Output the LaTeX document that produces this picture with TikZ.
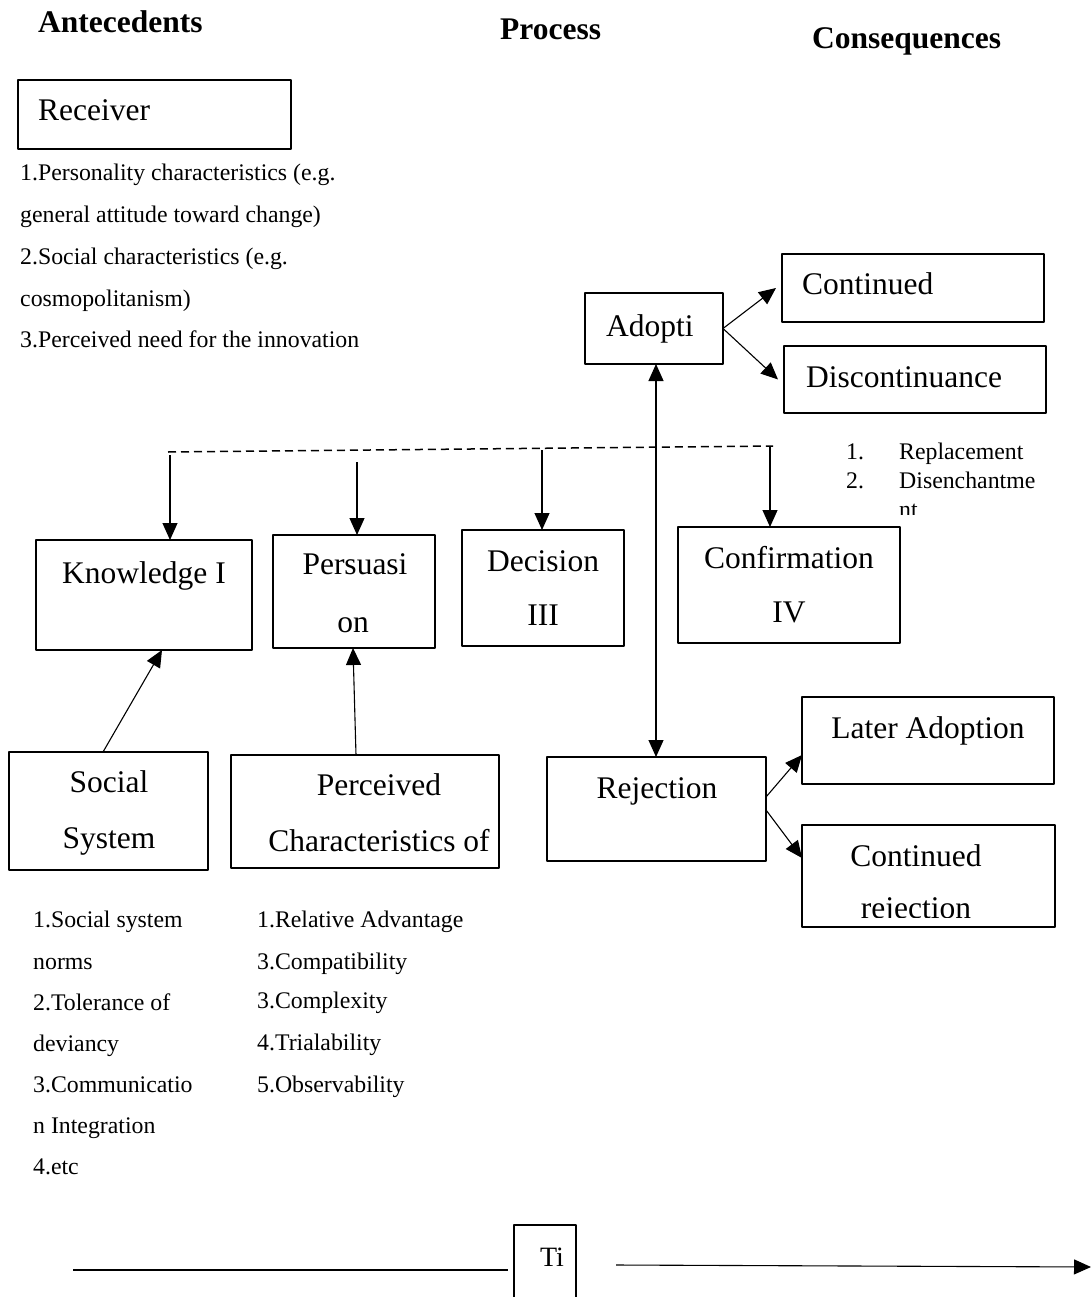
\documentclass[tikz,border=0pt]{standalone}
\usepackage{fontspec}
\setmainfont{Liberation Serif}
\usetikzlibrary{arrows.meta}

\begin{document}
\begin{tikzpicture}[x=1pt, y=-1pt, line join=round, >={Triangle[length=17pt,width=15pt]},
	box/.style={draw, line width=1.3pt, inner sep=0pt, outer sep=0pt},
	big/.style={font=\fontsize{31.5}{36}\selectfont, inner sep=0pt, anchor=base},
	head/.style={font=\fontsize{31.5}{36}\selectfont\bfseries, inner sep=0pt, anchor=base west},
	small/.style={font=\fontsize{23.8}{28}\selectfont, inner sep=0pt, anchor=base west},
	conn/.style={->, line width=1.1pt}]
	\useasboundingbox (0,0) rectangle (1091,1297);
	\node[head] (hant) at (38,33) {Antecedents};
	\node[head] (hpro) at (500,40) {Process};
	\node[head] (hcon) at (812,49) {Consequences};
	\node[box, minimum width=273, minimum height=69] (rec) at (154.5,114.5) {};
	\node[big, anchor=base west] (trec) at (38,121) {Receiver};
	\node[small] (r1) at (20,181) {1.Personality characteristics (e.g.};
	\node[small] (r2) at (20,223) {general attitude toward change)};
	\node[small] (r3) at (20,265) {2.Social characteristics (e.g.};
	\node[small] (r4) at (20,306) {cosmopolitanism)};
	\node[small] (r5) at (20,347) {3.Perceived need for the innovation};
	\node[box, minimum width=138, minimum height=71] (adopt) at (654,328.5) {};
	\node[big, anchor=base west] (tadopt) at (606,336) {Adopti};
	\node[box, minimum width=262, minimum height=68] (cont) at (913,288) {};
	\node[big, anchor=base west] (tcont) at (802,294) {Continued};
	\node[box, minimum width=262, minimum height=67] (disc) at (915,379.5) {};
	\node[big, anchor=base west] (tdisc) at (806,387) {Discontinuance};
	\node[small] (d1) at (846,459) {1.};
	\node[small] (d2) at (899,459) {Replacement};
	\node[small] (d3) at (846,488) {2.};
	\node[small] (d4) at (899,488) {Disenchantme};
	\begin{scope}
		\clip (880,495) rectangle (1091,514);
		\node[small] (d5) at (899,517) {nt};
	\end{scope}
	\node[box, minimum width=216, minimum height=110] (know) at (144,595) {};
	\node[big] (tknow) at (144,583) {Knowledge I};
	\node[box, minimum width=162, minimum height=113] (pers) at (354,591.5) {};
	\node[big] (tpers1) at (355,574) {Persuasi};
	\node[big] (tpers2) at (353,632) {on};
	\node[box, minimum width=162, minimum height=116] (dec) at (543,588) {};
	\node[big] (tdec1) at (543,571) {Decision};
	\node[big] (tdec2) at (543,625) {III};
	\node[box, minimum width=222, minimum height=116] (conf) at (789,585) {};
	\node[big] (tconf1) at (789,568) {Confirmation};
	\node[big] (tconf2) at (789,622) {IV};
	\node[box, minimum width=252, minimum height=87] (later) at (928,740.5) {};
	\node[big] (tlater) at (928,738) {Later Adoption};
	\node[box, minimum width=219, minimum height=104] (rej) at (656.5,809) {};
	\node[big] (trej) at (657,798) {Rejection};
	\node[box, minimum width=253, minimum height=102] (crej) at (928.5,876) {};
	\node[big] (tcrej1) at (916,866) {Continued};
	\begin{scope}
		\clip (810,890) rectangle (1050,917);
		\node[big] (tcrej2) at (916,918) {rejection};
	\end{scope}
	\node[box, minimum width=199, minimum height=118] (soc) at (108.5,811) {};
	\node[big] (tsoc1) at (109,792) {Social};
	\node[big] (tsoc2) at (109,848) {System};
	\node[box, minimum width=268, minimum height=113] (perc) at (365,811.5) {};
	\node[big] (tperc1) at (379,795) {Perceived};
	\node[big] (tperc2) at (379,851) {Characteristics of};
	\node[small] (s1) at (33,927) {1.Social system};
	\node[small] (s2) at (33,969) {norms};
	\node[small] (s3) at (33,1010) {2.Tolerance of};
	\node[small] (s4) at (33,1051) {deviancy};
	\node[small] (s5) at (33,1092) {3.Communicatio};
	\node[small] (s6) at (33,1133) {n Integration};
	\node[small] (s7) at (33,1174) {4.etc};
	\node[small] (p1) at (257,927) {1.Relative Advantage};
	\node[small] (p2) at (257,969) {3.Compatibility};
	\node[small] (p3) at (257,1008) {3.Complexity};
	\node[small] (p4) at (257,1050) {4.Trialability};
	\node[small] (p5) at (257,1092) {5.Observability};
	\draw[line width=1.3pt] (514,1300) |- (576,1225) -- (576,1300);
	\node[font=\fontsize{28}{32}\selectfont, inner sep=0pt, anchor=base] (ti) at (552,1266) {Ti};
	\coordinate (dl) at (168,452);
	\coordinate (dr) at (773,446);
	\draw[line width=1.5pt, dash pattern=on 8pt off 5pt] (dl) -- (dr);
	\coordinate (k0) at (170,455);
	\coordinate (p0) at (357,462);
	\coordinate (c0) at (542,450);
	\coordinate (f0) at (770,446);
	\draw[conn] (k0) -- (k0 |- know.north);
	\draw[conn] (p0) -- (p0 |- pers.north);
	\draw[conn] (c0) -- (c0 |- dec.north);
	\draw[conn] (f0) -- (f0 |- conf.north);
	\draw[conn] (adopt.east) -- ([xshift=-6pt]cont.west);
	\draw[conn] (adopt.east) -- ([xshift=-6pt]disc.west);
	\draw[conn, <->] ([xshift=2pt]adopt.south) -- ([xshift=2pt]adopt.south |- rej.north);
	\draw[conn] ([yshift=-40pt]rej.north east) -- ([yshift=29pt]later.south west);
	\draw[conn] ([yshift=-53pt]rej.north east) -- ([yshift=-33pt]crej.north west);
	\draw[conn] ([xshift=-5.5pt]soc.north) -- ([xshift=18pt]know.south);
	\draw[conn] ([xshift=-9pt]perc.north) -- ([xshift=-1pt]pers.south);
	\coordinate (t0) at (73,1270);
	\coordinate (t1) at (508,1270);
	\coordinate (t2) at (616,1265);
	\coordinate (t3) at (1091,1267);
	\draw[line width=1.1pt] (t0) -- (t1);
	\draw[conn] (t2) -- (t3);
\end{tikzpicture}
\end{document}
